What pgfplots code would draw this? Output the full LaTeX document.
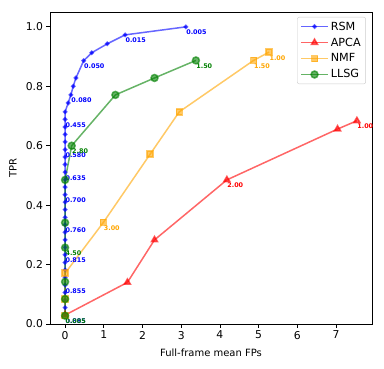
\documentclass[border=0pt]{standalone}
\usepackage{fontspec}
\setmainfont{DejaVu Sans}
\usepackage{pgfplots}
\pgfplotsset{compat=1.18}
\definecolor{cB}{RGB}{0,0,255}
\definecolor{cR}{RGB}{255,0,0}
\definecolor{cO}{RGB}{255,165,0}
\definecolor{cG}{RGB}{0,128,0}
\newcommand{\lab}[4]{\node[anchor=north west, inner sep=0pt, font=\fontsize{6.4}{7}\selectfont\bfseries, text=#4, xshift=0.3pt, yshift=-3pt] at (axis cs:#1,#2) {#3};}
\begin{document}
\begin{tikzpicture}
\begin{axis}[
  scale only axis, width=322pt, height=312pt,
  xmin=-0.39, xmax=7.93, ymin=0, ymax=1.05,
  xtick={0,1,2,3,4,5,6,7}, ytick={0,0.2,0.4,0.6,0.8,1.0},
  yticklabel style={/pgf/number format/.cd, fixed, fixed zerofill, precision=1},
  /pgf/number format/assume math mode=true,
  tick label style={font=\fontsize{10.8}{13}\selectfont},
  label style={font=\fontsize{11.5}{14}\selectfont},
  tick align=outside, xtick pos=left, ytick pos=left,
  major tick length=3.5pt,
  axis line style={line width=0.8pt},
  every tick/.style={black, line width=0.8pt},
  xlabel={Full-frame mean FPs}, ylabel={TPR},
  every axis x label/.style={at={(axis description cs:0.5,0)}, anchor=center, yshift=-29pt},
  every axis y label/.style={at={([xshift=-37pt]axis description cs:0,0.5)}, anchor=center, rotate=90},
  clip=false,
  legend cell align=left,
  legend style={at={(axis description cs:0.981,0.984)}, anchor=north east,
    draw=black!20, rounded corners=2pt, fill=white, fill opacity=0.8, text opacity=1,
    font=\fontsize{11.2}{13.4}\selectfont, row sep=2.2pt, inner xsep=3pt, inner ysep=2.5pt},
  legend image code/.code={\draw[mark repeat=2,mark phase=2,#1] plot coordinates {(0pt,0pt) (13.5pt,0pt) (27pt,0pt)};},
]
\addplot[color=cB, opacity=0.6, line width=1.5pt, mark=*, mark size=1.6pt] coordinates {
(3.12,1.000) (1.55,0.973) (1.09,0.943) (0.69,0.913) (0.48,0.886) (0.28,0.828) (0.21,0.800) (0.15,0.771) (0.08,0.744)
(0,0.714) (0,0.689) (0,0.663) (0,0.638) (0,0.613) (0,0.587) (0,0.562) (0,0.537) (0,0.511) (0,0.486)
(0,0.461) (0,0.435) (0,0.410) (0,0.385) (0,0.359) (0,0.334) (0,0.309) (0,0.283) (0,0.258) (0,0.233)
(0,0.207) (0,0.182) (0,0.157) (0,0.131) (0,0.106) (0,0.081) (0,0.055) (0,0.030)
};
\addlegendentry{RSM}
\addplot[color=cR, opacity=0.6, line width=1.5pt, mark=triangle*, mark size=3.5pt] coordinates {
(0,0.030) (1.61,0.140) (2.31,0.283) (4.18,0.485) (7.04,0.656) (7.54,0.684)
};
\addlegendentry{APCA}
\addplot[color=cO, opacity=0.6, line width=1.5pt, mark=square*, mark size=3pt] coordinates {
(0,0.028) (0,0.084) (0,0.171) (0.99,0.342) (2.20,0.572) (2.95,0.714) (4.87,0.887) (5.27,0.915)
};
\addlegendentry{NMF}
\addplot[color=cG, opacity=0.6, line width=1.5pt, mark=*, mark size=3.5pt] coordinates {
(0,0.028) (0,0.084) (0,0.142) (0,0.257) (0,0.341) (0,0.485) (0.17,0.600) (1.30,0.771) (2.31,0.828) (3.38,0.887)
};
\addlegendentry{LLSG}
\lab{3.12}{1.000}{0.005}{cB}
\lab{1.55}{0.973}{0.015}{cB}
\lab{0.48}{0.886}{0.050}{cB}
\lab{0.15}{0.771}{0.080}{cB}
\lab{0}{0.689}{0.455}{cB}
\lab{0}{0.587}{0.580}{cB}
\lab{0}{0.511}{0.635}{cB}
\lab{0}{0.435}{0.700}{cB}
\lab{0}{0.334}{0.760}{cB}
\lab{0}{0.233}{0.815}{cB}
\lab{0}{0.131}{0.855}{cB}
\lab{0}{0.030}{0.885}{cB}
\lab{4.18}{0.485}{2.00}{cR}
\lab{7.54}{0.684}{1.00}{cR}
\lab{0.99}{0.342}{3.00}{cO}
\lab{4.87}{0.887}{1.50}{cO}
\lab{5.27}{0.915}{1.00}{cO}
\lab{3.38}{0.887}{1.50}{cG}
\lab{0.17}{0.600}{2.80}{cG}
\lab{0}{0.257}{4.50}{cG}
\lab{0}{0.028}{0.005}{cG}
\end{axis}
\pgfresetboundingbox
\path[use as bounding box] (-50pt,-44pt) rectangle (334pt,324pt);
\end{tikzpicture}
\end{document}
